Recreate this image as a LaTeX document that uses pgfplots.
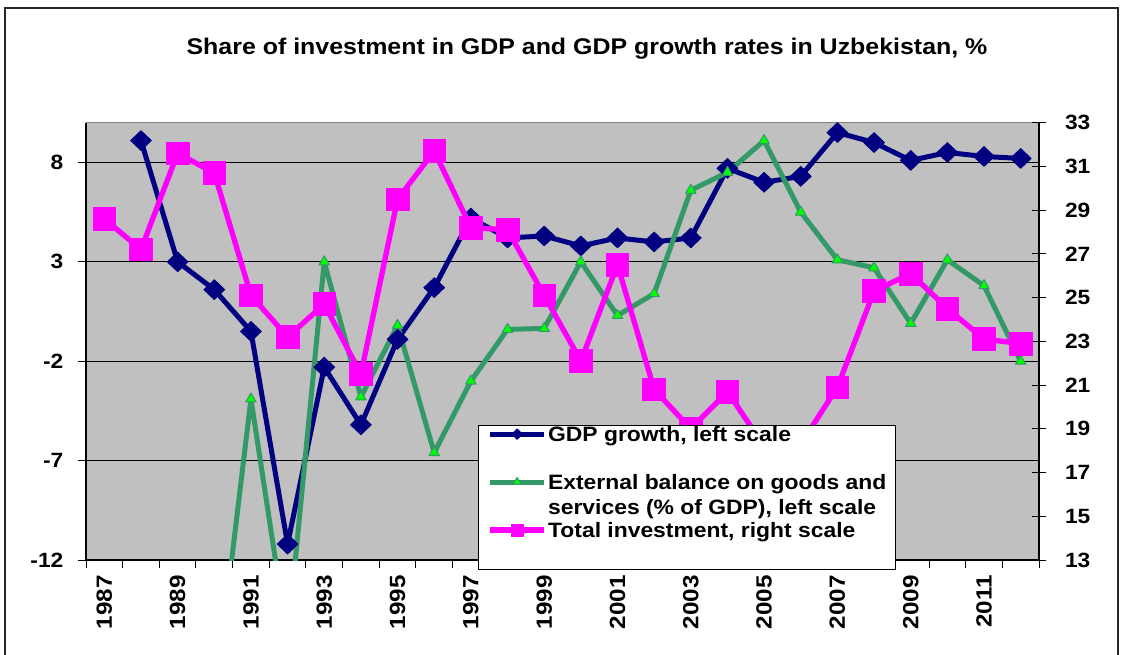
\documentclass[border=0pt]{standalone}
\usepackage{pgfplots}
\pgfplotsset{compat=1.18}
\usepackage{fontspec}
\setmainfont[FakeStretch=1.1]{Liberation Sans}
\definecolor{gdpblue}{RGB}{0,0,128}
\definecolor{extgreen}{RGB}{51,153,102}
\definecolor{brightgreen}{RGB}{0,255,0}
\definecolor{plotgray}{RGB}{192,192,192}
\definecolor{invpink}{RGB}{255,0,255}

\pgfplotstableread{
year gdp
1988 9.1
1989 3.0
1990 1.6
1991 -0.5
1992 -11.2
1993 -2.3
1994 -5.2
1995 -0.9
1996 1.7
1997 5.2
1998 4.2
1999 4.3
2000 3.8
2001 4.2
2002 4.0
2003 4.2
2004 7.7
2005 7.0
2006 7.3
2007 9.5
2008 9.0
2009 8.1
2010 8.5
2011 8.3
2012 8.2
}\gdptable

\pgfplotstableread{
year ext
1990 -19.3
1991 -3.9
1992 -16.0
1993 3.0
1994 -3.8
1995 -0.2
1996 -6.6
1997 -3.0
1998 -0.4
1999 -0.35
2000 3.0
2001 0.3
2002 1.4
2003 6.6
2004 7.5
2005 9.1
2006 5.5
2007 3.1
2008 2.7
2009 -0.1
2010 3.1
2011 1.8
2012 -2.0
}\exttable

\pgfplotstableread{
year inv
1987 28.6
1988 27.2
1989 31.6
1990 30.7
1991 25.1
1992 23.2
1993 24.7
1994 21.5
1995 29.5
1996 31.7
1997 28.2
1998 28.1
1999 25.1
2000 22.1
2001 26.5
2002 20.8
2003 19.0
2004 20.7
2005 18.2
2006 18.3
2007 20.9
2008 25.3
2009 26.1
2010 24.5
2011 23.1
2012 22.9
}\invtable

\pgfplotsset{
  gdpstyle/.style={gdpblue, line width=3.75pt, line join=round, mark=diamond*, mark options={solid, xscale=1.4, line width=0.5pt, fill=gdpblue, draw=gdpblue}},
  extstyle/.style={extgreen, line width=3.75pt, line join=round, mark=triangle*, mark options={solid, fill=brightgreen, draw=extgreen, line width=0.75pt}},
  invstyle/.style={invpink, line width=4pt, line join=round, mark=square*, mark options={solid, fill=invpink, draw=invpink, line width=0.5pt}},
  commonaxis/.style={
    at={(64.5pt,70.5pt)}, anchor=south west,
    scale only axis, width=714.75pt, height=328pt,
    xmin=1986.5, xmax=2012.5,
    tick label style={font=\bfseries\fontsize{15.5}{18}\selectfont},
    /pgf/number format/assume math mode=true,
  },
}

\begin{document}
\begin{tikzpicture}
\path[use as bounding box] (0,0) rectangle (842.25pt,490.5pt);
\draw[line width=1pt, black!85] (3.75pt,-5pt) -- (3.75pt,484.5pt) -- (838.5pt,484.5pt) -- (838.5pt,-5pt);
\node[font=\bfseries\fontsize{17}{20}\selectfont] at (440.25pt,453.75pt) {Share of investment in GDP and GDP growth rates in Uzbekistan, \%};

\begin{axis}[
  commonaxis,
  ymin=-12, ymax=10,
  axis background/.style={fill=plotgray},
  axis x line*=bottom, axis y line*=left,
  axis line style={black, line width=0.9pt},
  ytick={-12,-7,-2,3,8},
  yticklabel shift=7.5pt,
  ymajorgrids, major grid style={black, line width=0.75pt},
  xtick={1986.5,1987.5,...,2012.5}, xticklabels={},
  extra x ticks={1987,1989,...,2011},
  extra x tick labels={1987,1989,1991,1993,1995,1997,1999,2001,2003,2005,2007,2009,2011},
  extra x tick style={major tick length=0pt, xticklabel shift=8pt, xticklabel style={rotate=90, anchor=east, font=\bfseries\fontsize{16.5}{18}\selectfont}},
  tick align=outside, major tick length=6pt,
  tick style={black, line width=0.75pt},
  clip=true,
]
\addplot[gdpstyle, mark size=7.5pt, forget plot] table[x=year, y=gdp] {\gdptable};
\addplot[extstyle, mark size=4.5pt, forget plot] table[x=year, y=ext] {\exttable};
\draw[gray, line width=0.9pt] (rel axis cs:0,1) -- (rel axis cs:1,1);
\end{axis}

\begin{axis}[
  commonaxis,
  ymin=13, ymax=33,
  axis x line=none, axis y line*=right,
  axis line style={black, line width=0.9pt},
  ytick={13,15,...,33},
  yticklabel shift=10.5pt,
  tick align=center, major tick length=11pt,
  tick style={black, line width=0.75pt},
  legend style={
    at={(0.4113,0.3087)}, anchor=north west,
    draw=black, line width=0.75pt, fill=white,
    inner xsep=6.75pt, inner ysep=1pt,
    row sep=22pt,
    cells={anchor=base west},
    nodes={inner sep=0pt, text height=11pt, text depth=3pt},
    font=\bfseries\fontsize{15.6}{18.75}\selectfont,
    /tikz/every odd column/.append style={column sep=1pt},
  },
  legend image code/.code={\draw[mark repeat=2,mark phase=2,#1] plot coordinates {(0pt,5.5pt)(20.25pt,5.5pt)(40.5pt,5.5pt)};},
]
\addplot[invstyle, mark size=8.5pt, forget plot] table[x=year, y=inv] {\invtable};
\addlegendimage{gdpstyle, mark size=4pt}
\addlegendentry{GDP growth, left scale}
\addlegendimage{extstyle, mark size=3.5pt}
\addlegendentry{\smash{\begin{tabular}[t]{@{}l@{}}External balance on goods and\\services (\% of GDP), left scale\end{tabular}}}
\addlegendimage{invstyle, mark size=4.5pt}
\addlegendentry[text depth=23pt]{Total investment, right scale}
\end{axis}
\end{tikzpicture}
\end{document}
